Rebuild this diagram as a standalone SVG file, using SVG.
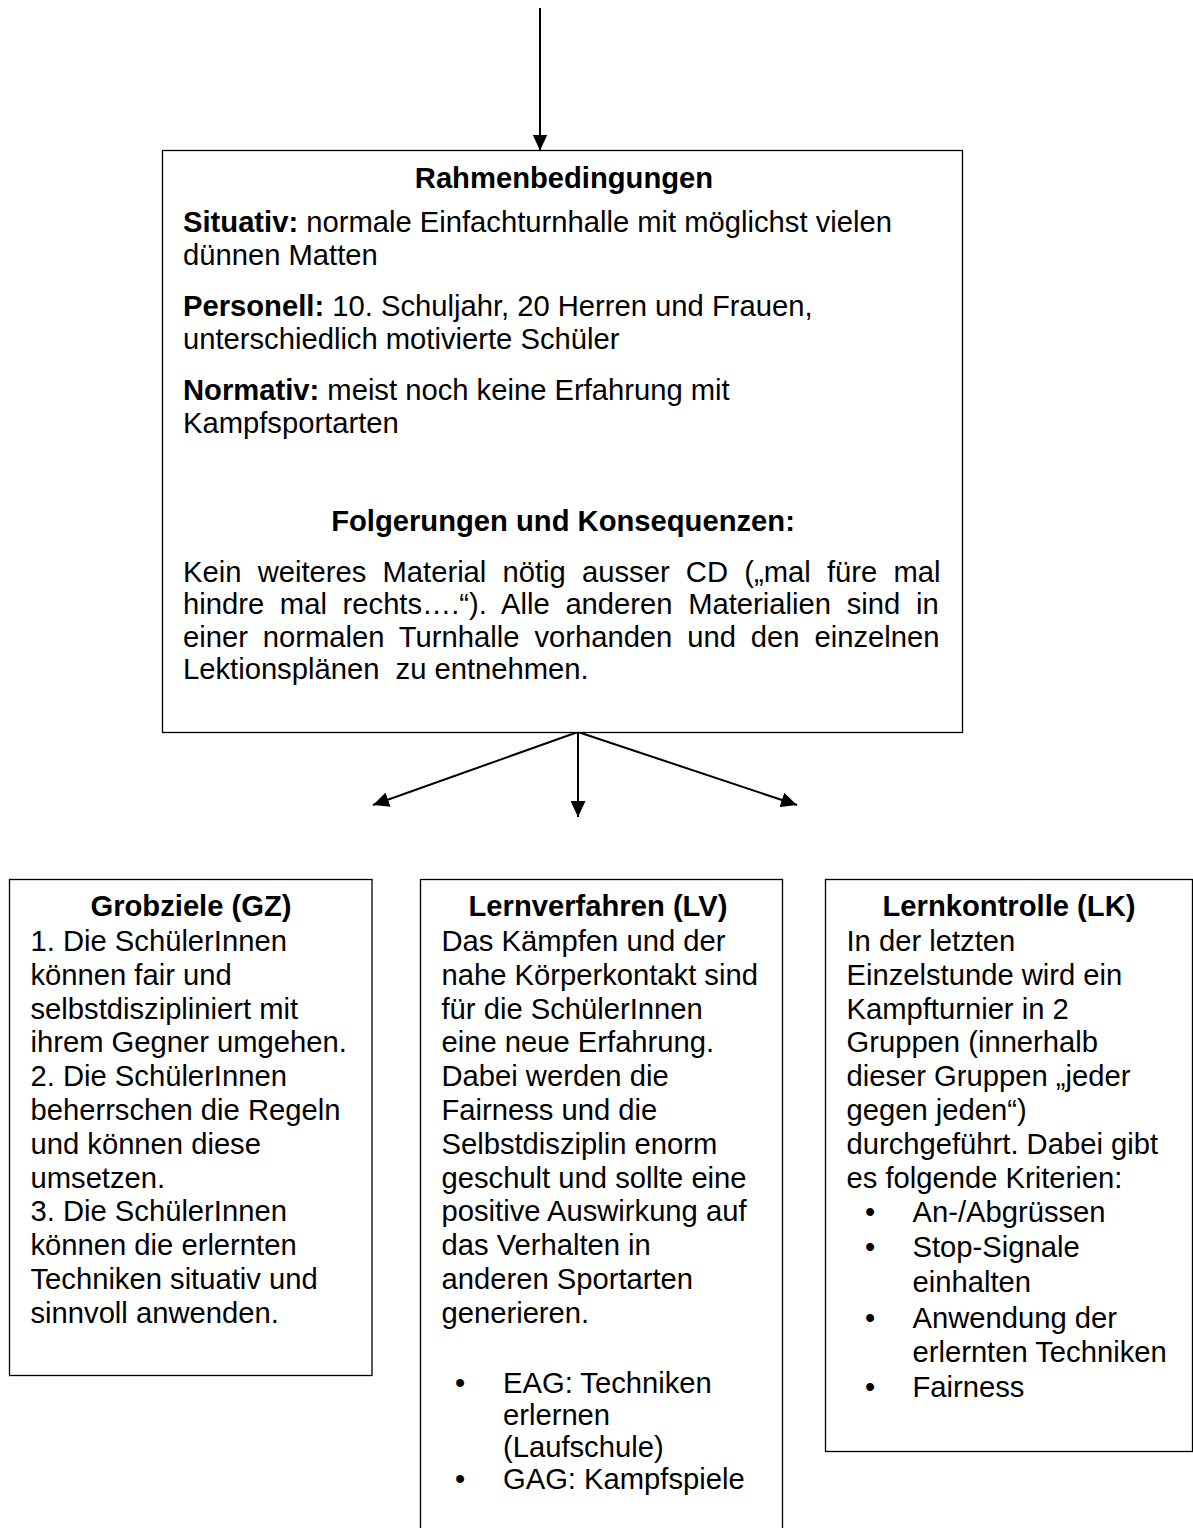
<svg xmlns="http://www.w3.org/2000/svg" width="1193" height="1528" viewBox="0 0 1193 1528">
<defs>
<style>
text{font-family:"Liberation Sans",Arial,sans-serif;font-size:29.2px;fill:#000}
.b{font-weight:bold}
.t{font-weight:bold;text-anchor:middle}
.box{fill:#fff;stroke:#000;stroke-width:1.3}
.con{stroke:#000;stroke-width:2;fill:none;marker-end:url(#ah)}
</style>
<marker id="ah" markerUnits="userSpaceOnUse" markerWidth="16" markerHeight="15" refX="16" refY="7.5" orient="auto">
<path d="M0,0 L16,7.5 L0,15 Z" fill="#000"/>
</marker>
</defs>
<rect width="1193" height="1528" fill="#fff"/>
<g id="connectors">
<line class="con" x1="540" y1="8" x2="540" y2="150.5"/>
<line class="con" x1="578" y1="732" x2="373" y2="805"/>
<line class="con" x1="578" y1="732" x2="578" y2="817"/>
<line class="con" x1="578" y1="732" x2="797" y2="805"/>
</g>
<g id="rahmenbedingungen">
<rect class="box" x="162.5" y="150.5" width="800" height="582"/>
<text class="t" x="564" y="188">Rahmenbedingungen</text>
<text x="183" y="232"><tspan class="b">Situativ:</tspan> normale Einfachturnhalle mit möglichst vielen</text>
<text x="183" y="265">dünnen Matten</text>
<text x="183" y="316"><tspan class="b">Personell:</tspan> 10. Schuljahr, 20 Herren und Frauen,</text>
<text x="183" y="349">unterschiedlich motivierte Schüler</text>
<text x="183" y="400"><tspan class="b">Normativ:</tspan> meist noch keine Erfahrung mit</text>
<text x="183" y="433">Kampfsportarten</text>
<text class="t" x="563" y="531">Folgerungen und Konsequenzen:</text>
<text x="183" y="582" word-spacing="8.1">Kein weiteres Material nötig ausser CD („mal füre mal</text>
<text x="183" y="614" word-spacing="7.6">hindre mal rechts….“). Alle anderen Materialien sind in</text>
<text x="183" y="647" word-spacing="6.8">einer normalen Turnhalle vorhanden und den einzelnen</text>
<text x="183" y="679" xml:space="preserve">Lektionsplänen  zu entnehmen.</text>
</g>
<g id="grobziele">
<rect class="box" x="9.5" y="879.5" width="362.5" height="496"/>
<text class="t" x="191" y="916">Grobziele (GZ)</text>
<text x="30.5" y="951">1. Die SchülerInnen</text>
<text x="30.5" y="985">können fair und</text>
<text x="30.5" y="1019">selbstdiszipliniert mit</text>
<text x="30.5" y="1052">ihrem Gegner umgehen.</text>
<text x="30.5" y="1086">2. Die SchülerInnen</text>
<text x="30.5" y="1120">beherrschen die Regeln</text>
<text x="30.5" y="1154">und können diese</text>
<text x="30.5" y="1188">umsetzen.</text>
<text x="30.5" y="1221">3. Die SchülerInnen</text>
<text x="30.5" y="1255">können die erlernten</text>
<text x="30.5" y="1289">Techniken situativ und</text>
<text x="30.5" y="1323">sinnvoll anwenden.</text>
</g>
<g id="lernverfahren">
<rect class="box" x="420.5" y="879.5" width="362" height="700"/>
<text class="t" x="598" y="916">Lernverfahren (LV)</text>
<text x="441.5" y="951">Das Kämpfen und der</text>
<text x="441.5" y="985">nahe Körperkontakt sind</text>
<text x="441.5" y="1019">für die SchülerInnen</text>
<text x="441.5" y="1052">eine neue Erfahrung.</text>
<text x="441.5" y="1086">Dabei werden die</text>
<text x="441.5" y="1120">Fairness und die</text>
<text x="441.5" y="1154">Selbstdisziplin enorm</text>
<text x="441.5" y="1188">geschult und sollte eine</text>
<text x="441.5" y="1221">positive Auswirkung auf</text>
<text x="441.5" y="1255">das Verhalten in</text>
<text x="441.5" y="1289">anderen Sportarten</text>
<text x="441.5" y="1323">generieren.</text>
<text x="455" y="1393">•</text>
<text x="503" y="1393">EAG: Techniken</text>
<text x="503" y="1425">erlernen</text>
<text x="503" y="1457">(Laufschule)</text>
<text x="455" y="1489">•</text>
<text x="503" y="1489">GAG: Kampfspiele</text>
</g>
<g id="lernkontrolle">
<rect class="box" x="825.5" y="879.5" width="367" height="572"/>
<text class="t" x="1009" y="916">Lernkontrolle (LK)</text>
<text x="846.5" y="951">In der letzten</text>
<text x="846.5" y="985">Einzelstunde wird ein</text>
<text x="846.5" y="1019">Kampfturnier in 2</text>
<text x="846.5" y="1052">Gruppen (innerhalb</text>
<text x="846.5" y="1086">dieser Gruppen „jeder</text>
<text x="846.5" y="1120">gegen jeden“)</text>
<text x="846.5" y="1154">durchgeführt. Dabei gibt</text>
<text x="846.5" y="1188">es folgende Kriterien:</text>
<text x="865" y="1222">•</text>
<text x="912.5" y="1222">An-/Abgrüssen</text>
<text x="865" y="1257">•</text>
<text x="912.5" y="1257">Stop-Signale</text>
<text x="912.5" y="1292">einhalten</text>
<text x="865" y="1328">•</text>
<text x="912.5" y="1328">Anwendung der</text>
<text x="912.5" y="1362">erlernten Techniken</text>
<text x="865" y="1397">•</text>
<text x="912.5" y="1397">Fairness</text>
</g>
</svg>
